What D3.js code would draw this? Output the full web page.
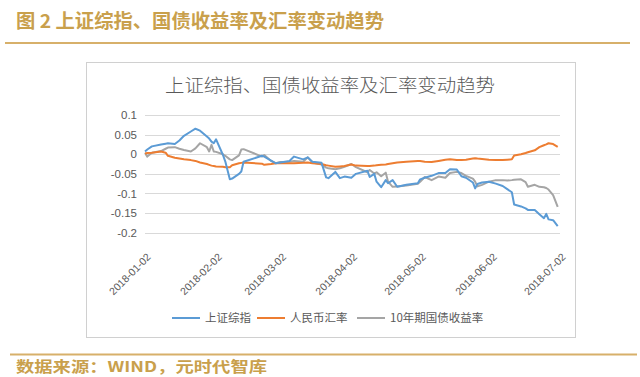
<!DOCTYPE html>
<html lang="zh">
<head>
<meta charset="UTF-8">
<title>上证综指、国债收益率及汇率变动趋势</title>
<script src="https://d3js.org/d3.v7.min.js"></script>
<style>
  body { margin: 0; background: #fff; }
  svg { display: block; }
  .grid line { stroke: #d9d9d9; stroke-width: 1; shape-rendering: crispEdges; }
  .grid path, .xaxis path { stroke: none; }
  .ytick text { font-family: "Liberation Sans", Arial, sans-serif; font-size: 11.5px; fill: #595959; }
  .xaxis text { font-family: "Liberation Sans", Arial, sans-serif; font-size: 10.5px; fill: #595959; }
  .legend text { font-family: "Noto Sans CJK SC", sans-serif; font-size: 11.5px; fill: #595959; }
</style>
</head>
<body>
<svg width="640" height="377"></svg>
<script>
// 数据
const dates = [
  "2018-01-02","2018-01-03","2018-01-05","2018-01-09","2018-01-11","2018-01-12","2018-01-15","2018-01-17",
  "2018-01-19","2018-01-22","2018-01-24","2018-01-26","2018-01-29","2018-01-30","2018-01-31","2018-02-01",
  "2018-02-02","2018-02-05","2018-02-06","2018-02-08","2018-02-09","2018-02-12","2018-02-13","2018-02-14",
  "2018-02-22","2018-02-23","2018-02-26","2018-02-28","2018-03-02","2018-03-06","2018-03-08","2018-03-12",
  "2018-03-14","2018-03-16","2018-03-20","2018-03-22","2018-03-23","2018-03-26","2018-03-28","2018-03-30",
  "2018-04-02","2018-04-04","2018-04-09","2018-04-10","2018-04-12","2018-04-13","2018-04-15","2018-04-17",
  "2018-04-18","2018-04-20","2018-04-22","2018-04-26","2018-05-01","2018-05-02","2018-05-04","2018-05-07",
  "2018-05-10","2018-05-13","2018-05-15","2018-05-18","2018-05-20","2018-05-22","2018-05-25","2018-05-26",
  "2018-05-27","2018-05-29","2018-06-01","2018-06-04","2018-06-07","2018-06-09","2018-06-11","2018-06-12",
  "2018-06-15","2018-06-17","2018-06-18","2018-06-21","2018-06-23","2018-06-25","2018-06-26","2018-06-27",
  "2018-06-29","2018-07-01"
];

const shIndex = [
  0.007, 0.012, 0.020, 0.025, 0.027, 0.028, 0.026, 0.035,
  0.047, 0.058, 0.065, 0.060, 0.045, 0.040, 0.032, 0.028,
  0.038, -0.002, -0.018, -0.064, -0.062, -0.050, -0.044, -0.019,
  -0.004, -0.006, -0.016, -0.023, -0.021, -0.017, -0.006, -0.013,
  -0.008, -0.019, -0.022, -0.059, -0.061, -0.045, -0.061, -0.057,
  -0.060, -0.050, -0.042, -0.058, -0.050, -0.070, -0.084, -0.066,
  -0.074, -0.066, -0.083, -0.078, -0.074, -0.064, -0.060, -0.055,
  -0.048, -0.048, -0.038, -0.039, -0.056, -0.060, -0.072, -0.087,
  -0.076, -0.072, -0.070, -0.075, -0.081, -0.089, -0.097, -0.128,
  -0.133, -0.138, -0.142, -0.142, -0.153, -0.163, -0.152, -0.166,
  -0.168, -0.183
];

const rmbRate = [
  0.002, 0.003, 0.004, 0.007, 0.004, -0.004, -0.009, -0.011,
  -0.013, -0.015, -0.017, -0.021, -0.025, -0.027, -0.029, -0.030,
  -0.031, -0.032, -0.033, -0.033, -0.028, -0.023, -0.022, -0.021,
  -0.024, -0.027, -0.025, -0.023, -0.023, -0.023, -0.023, -0.022,
  -0.021, -0.023, -0.025, -0.028, -0.029, -0.032, -0.031, -0.030,
  -0.026, -0.029, -0.030, -0.030, -0.029, -0.028, -0.027, -0.026,
  -0.025, -0.023, -0.021, -0.019, -0.017, -0.017, -0.019, -0.020,
  -0.017, -0.014, -0.013, -0.015, -0.015, -0.014, -0.011, -0.010,
  -0.011, -0.012, -0.014, -0.015, -0.015, -0.014, -0.013, -0.003,
  0.000, 0.003, 0.005, 0.010, 0.018, 0.023, 0.025, 0.028,
  0.026, 0.019
];

const bond10y = [
  0.003, -0.006, 0.004, 0.008, 0.014, 0.017, 0.018, 0.014,
  0.011, 0.007, 0.015, 0.028, 0.018, 0.007, 0.024, 0.007,
  0.006, 0.000, -0.004, -0.013, -0.015, -0.003, 0.012, 0.013,
  -0.006, -0.002, -0.017, -0.023, -0.020, -0.019, -0.017, -0.019,
  -0.008, -0.021, -0.026, -0.034, -0.036, -0.038, -0.036, -0.032,
  -0.025, -0.033, -0.046, -0.040, -0.049, -0.046, -0.056, -0.047,
  -0.070, -0.083, -0.082, -0.080, -0.075, -0.070, -0.058, -0.066,
  -0.057, -0.060, -0.048, -0.045, -0.048, -0.055, -0.062, -0.070,
  -0.082, -0.078, -0.070, -0.066, -0.066, -0.067, -0.066, -0.065,
  -0.064, -0.071, -0.083, -0.078, -0.083, -0.084, -0.086, -0.090,
  -0.104, -0.134
];

const yTicks = [0.1, 0.05, 0, -0.05, -0.1, -0.15, -0.2];
const xTicks = ["2018-01-02","2018-02-02","2018-03-02","2018-04-02","2018-05-02","2018-06-02","2018-07-02"];
const seriesNames = ["上证综指", "人民币汇率", "10年期国债收益率"];
const seriesColors = ["#5b9bd5", "#ed7d31", "#a5a5a5"];

const parse = d3.utcParse("%Y-%m-%d");
const series = [shIndex, rmbRate, bond10y].map((vals, i) => ({
  name: seriesNames[i],
  color: seriesColors[i],
  values: dates.map((d, j) => ({ date: parse(d), v: vals[j] }))
}));

const svg = d3.select("svg");
const gold = "#c9a04c";

// 页眉
svg.append("text")
  .attr("x", 16).attr("y", 28)
  .attr("textLength", 368).attr("lengthAdjust", "spacingAndGlyphs")
  .style("font-family", "'Noto Sans CJK SC', sans-serif")
  .style("font-size", "19px").style("font-weight", "bold")
  .style("fill", gold)
  .text("图 2 上证综指、国债收益率及汇率变动趋势");

svg.append("line")
  .attr("x1", 5).attr("x2", 630).attr("y1", 43).attr("y2", 43)
  .attr("stroke", "#d7b06a").attr("stroke-width", 2);

// 图表外框
svg.append("rect")
  .attr("x", 86.5).attr("y", 62.5).attr("width", 489).attr("height", 275)
  .attr("fill", "#fff").attr("stroke", "#d0d0d0").attr("stroke-width", 1);

svg.append("text")
  .attr("x", 330).attr("y", 92)
  .attr("text-anchor", "middle")
  .attr("textLength", 330).attr("lengthAdjust", "spacingAndGlyphs")
  .style("font-family", "'Noto Sans CJK SC', sans-serif")
  .style("font-size", "18px").style("font-weight", 300)
  .style("fill", "#595959")
  .text("上证综指、国债收益率及汇率变动趋势");

// 比例尺
const x = d3.scaleUtc()
  .domain([parse("2018-01-02"), parse("2018-07-02")])
  .range([145, 560]);

const y = d3.scaleLinear()
  .domain([-0.2, 0.1])
  .range([232.7, 115]);

// 网格线与纵轴
const grid = svg.append("g")
  .attr("class", "grid ytick")
  .attr("transform", "translate(145,0)")
  .call(d3.axisLeft(y)
    .tickValues(yTicks)
    .tickSize(-415)
    .tickPadding(8)
    .tickFormat(d => d === 0 ? "0" : String(+d.toFixed(2))));
grid.select(".domain").remove();

// 横轴
const xAxis = svg.append("g")
  .attr("class", "xaxis")
  .attr("transform", "translate(0,232.7)")
  .call(d3.axisBottom(x)
    .tickValues(xTicks.map(parse))
    .tickSize(0)
    .tickFormat(d3.utcFormat("%Y-%m-%d")));
xAxis.selectAll("text")
  .attr("text-anchor", "end")
  .attr("dy", null)
  .attr("y", 0)
  .attr("transform", "translate(6,25) rotate(-45)");

// 折线
const line = d3.line()
  .x(d => x(d.date))
  .y(d => y(d.v));

svg.append("g")
  .selectAll("path")
  .data(series.slice().reverse())
  .join("path")
  .attr("fill", "none")
  .attr("stroke", d => d.color)
  .attr("stroke-width", 2)
  .attr("stroke-linejoin", "round")
  .attr("d", d => line(d.values));

// 图例
const legendX = [172, 257, 357];
const legend = svg.append("g").attr("class", "legend");
series.forEach((s, i) => {
  const g = legend.append("g").attr("transform", `translate(${legendX[i]},318)`);
  g.append("line")
    .attr("x1", 0).attr("x2", 28).attr("y1", 0).attr("y2", 0)
    .attr("stroke", s.color).attr("stroke-width", 2);
  g.append("text")
    .attr("x", 33).attr("y", 4)
    .text(s.name);
});

// 页脚
svg.append("line")
  .attr("x1", 10).attr("x2", 637).attr("y1", 354.5).attr("y2", 354.5)
  .attr("stroke", "#d7b06a").attr("stroke-width", 2);

svg.append("text")
  .attr("x", 16).attr("y", 372)
  .attr("textLength", 251).attr("lengthAdjust", "spacingAndGlyphs")
  .style("font-family", "'Noto Sans CJK SC', sans-serif")
  .style("font-size", "15px").style("font-weight", "bold")
  .style("fill", gold)
  .text("数据来源：WIND，元时代智库");
</script>
</body>
</html>
